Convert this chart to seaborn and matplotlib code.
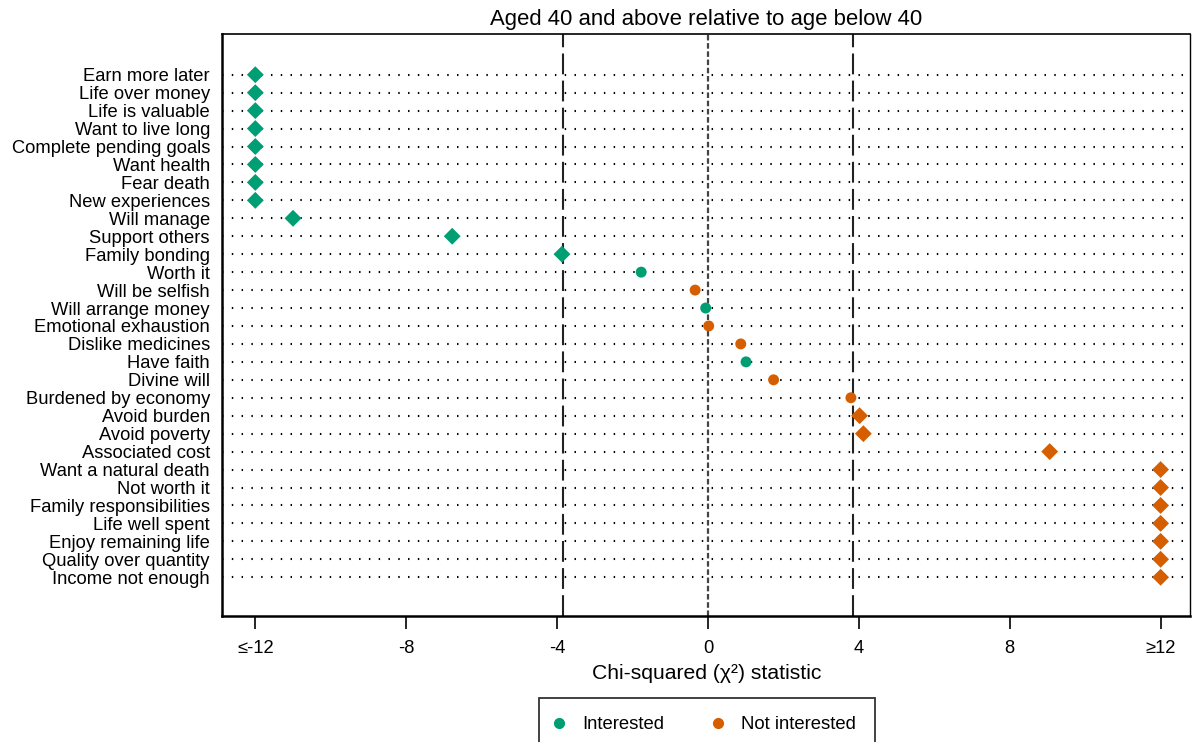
import numpy as np
import pandas as pd
import seaborn as sns
import matplotlib.pyplot as plt
from matplotlib.lines import Line2D

# Dane (chi-kwadrat, wartości skrajne obcięte do +-12)
reasons = ["Earn more later", "Life over money", "Life is valuable",
           "Want to live long", "Complete pending goals", "Want health",
           "Fear death", "New experiences", "Will manage", "Support others",
           "Family bonding", "Worth it", "Will be selfish", "Will arrange money",
           "Emotional exhaustion", "Dislike medicines", "Have faith",
           "Divine will", "Burdened by economy", "Avoid burden",
           "Avoid poverty", "Associated cost", "Want a natural death",
           "Not worth it", "Family responsibilities", "Life well spent",
           "Enjoy remaining life", "Quality over quantity",
           "Income not enough"]
chi2 = [-12, -12, -12, -12, -12, -12, -12, -12, -11.0, -6.78, -3.87, -1.77,
        -0.34, -0.06, 0.02, 0.87, 1.01, 1.74, 3.79, 4.02, 4.12, 9.06,
        12, 12, 12, 12, 12, 12, 12]
group = ["Interested"] * 12 + ["Not interested", "Interested",
         "Not interested", "Not interested", "Interested"] + \
        ["Not interested"] * 12
tick_vals = [-12, -8, -4, 0, 4, 8, 12]
tick_labels = ["≤-12", "-8", "-4", "0", "4", "8", "≥12"]
crit = 3.84

df = pd.DataFrame({"reason": reasons, "chi2": chi2, "group": group})
df["pos"] = np.arange(len(df))
df["sig"] = df["chi2"].abs() >= crit

colors = {"Interested": "#009E73", "Not interested": "#D55E00"}

sns.set_theme(style="white")
plt.rcParams["font.family"] = ["Liberation Sans", "DejaVu Sans"]
plt.rcParams.update({"text.color": "black", "axes.labelcolor": "black",
                     "xtick.color": "black", "ytick.color": "black"})

fig = plt.figure(figsize=(11.93, 7.42), dpi=100)
ax = fig.add_axes([0.1865, 0.1698, 0.811, 0.7844])

# linie kropkowane dla kazdego wiersza
for p in df["pos"]:
    ax.axhline(p, color="black", lw=1.5, ls=(0, (0.7, 4)), zorder=1)

ax.axvline(0, color="#444444", lw=1.6, ls=(0, (2.5, 1.2)), zorder=1)
for c in (-crit, crit):
    ax.axvline(c, color="#222222", lw=1.5, ls=(0, (10, 3)), zorder=1)

sns.scatterplot(data=df[df["sig"]], x="chi2", y="pos", hue="group",
                palette=colors, marker="D", s=74, linewidth=0,
                legend=False, ax=ax, zorder=3)
sns.scatterplot(data=df[~df["sig"]], x="chi2", y="pos", hue="group",
                palette=colors, marker="o", s=62, linewidth=0,
                legend=False, ax=ax, zorder=3)

ax.set_xlim(-12.87, 12.78)
ax.set_ylim(len(df) - 1 + 2.16, -2.27)
ax.set_yticks(df["pos"])
ax.set_yticklabels(df["reason"], fontsize=13.2)
ax.set_xticks(tick_vals)
ax.set_xticklabels(tick_labels, fontsize=13.2)
ax.tick_params(axis="y", length=0, pad=9)
ax.tick_params(axis="x", bottom=True, length=9.5, width=1.2, pad=7.5,
               color="black", direction="out")
ax.set_xlabel("Chi-squared (χ²) statistic", fontsize=15.2, labelpad=5)
ax.set_ylabel("")
ax.set_title("Aged 40 and above relative to age below 40", fontsize=15.9,
             pad=6.5)

for side, w in (("left", 1.8), ("bottom", 1.8), ("top", 1.2), ("right", 1.0)):
    ax.spines[side].set_visible(True)
    ax.spines[side].set_color("black")
    ax.spines[side].set_linewidth(w)

handles = [Line2D([], [], marker="o", ls="", color=colors[g], markersize=7,
                  label=g) for g in colors]
leg = fig.legend(handles=handles, loc="upper center", ncol=2,
                 bbox_to_anchor=(707 / 1193, 1 - 698 / 742),
                 borderaxespad=0, fontsize=13.3, frameon=True, fancybox=False,
                 borderpad=1.0, handlelength=0.1, handletextpad=1.2,
                 columnspacing=2.9)
leg.get_frame().set_edgecolor("black")
leg.get_frame().set_linewidth(1.3)

fig.savefig("out.png", dpi=100)
